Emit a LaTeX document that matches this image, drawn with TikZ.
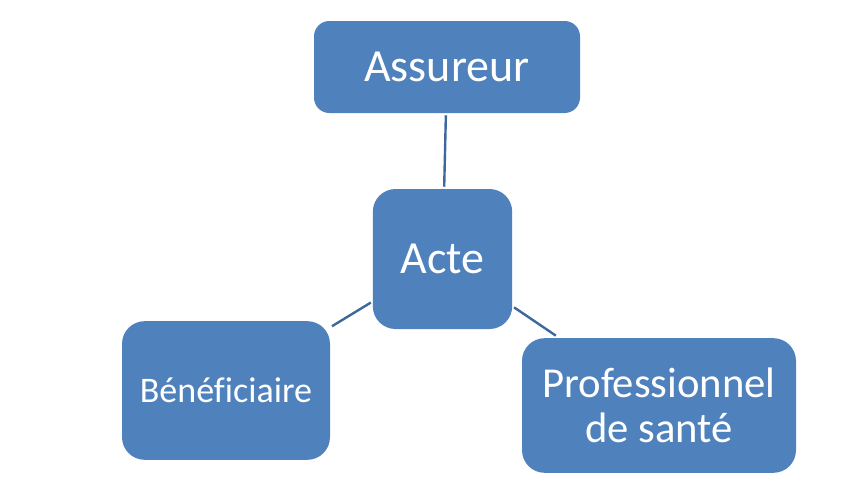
\documentclass[tikz,border=0pt]{standalone}
\usepackage{fontspec}
\setmainfont{Carlito}[Ligatures=NoCommon]
\definecolor{boxblue}{RGB}{79,129,189}
\definecolor{linkblue}{RGB}{62,104,156}

\begin{document}
\begin{tikzpicture} [
    x=0.75pt, y=-0.75pt,
    block/.style    = { rectangle, draw=none, fill=boxblue, text=white,
                        align=center, inner sep=0pt },
    line/.style     = { draw=linkblue, line width=1.8pt,
                        shorten >=1.5pt, shorten <=1.5pt },
  ]
  \useasboundingbox (0,0) rectangle (864,482);

  % Define nodes
  \node[block, minimum width=199.5pt, minimum height=69pt, rounded corners=11.5pt,
        font=\fontsize{34.5}{40}\selectfont] (assureur) at (447,67) {Assureur};
  \node[block, minimum width=104.5pt, minimum height=105pt, rounded corners=17pt,
        font=\fontsize{34.5}{40}\selectfont] (acte) at (442.5,259) {Acte};
  \node[block, minimum width=156pt, minimum height=104pt, rounded corners=17pt,
        font=\fontsize{27}{32}\selectfont] (benef) at (226,390.5) {Bénéficiaire};
  \node[block, minimum width=205.5pt, minimum height=101pt, rounded corners=17pt,
        font=\fontsize{32}{34}\selectfont] (prof) at (659,405.5) {Professionnel\\de santé};

  % connect the nodes
  \path [line] (assureur) -- (acte);
  \path [line] (acte) -- (benef);
  \path [line, shorten >=3pt] (acte) -- (prof);
\end{tikzpicture}
\end{document}
